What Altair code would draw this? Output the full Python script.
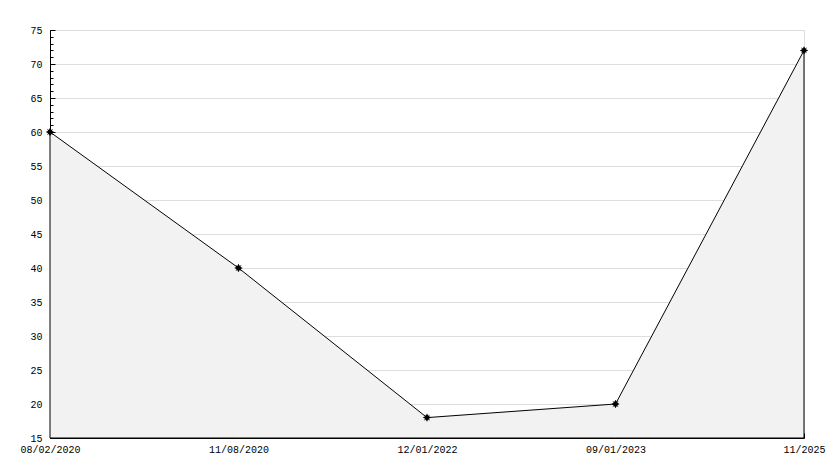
import altair as alt
import pandas as pd

dates = ["08/02/2020", "11/08/2020", "12/01/2022", "09/01/2023", "11/2025"]
values = [60, 40, 18, 20, 72]
y_min, y_max = 15, 75
major_ticks = list(range(15, 76, 5))
minor_ticks = list(range(15, 76, 1))

df = pd.DataFrame({"date": dates, "value": values})

FONT = "Liberation Mono"
xscale = alt.Scale(type="point", padding=0, domain=dates)
yscale = alt.Scale(domain=[y_min, y_max], nice=False, zero=False)

base = alt.Chart(df)

area = base.mark_area(fill="#f2f2f2", stroke="black", strokeWidth=1).encode(
    x=alt.X("date:O", scale=xscale, title=None,
            axis=alt.Axis(orient="bottom", labelAngle=0, tickSize=0, labelPadding=6,
                          domainColor="black", labelColor="black", labelFont=FONT,
                          labelFontSize=10, grid=False, labelOverlap=False)),
    y=alt.Y("value:Q", scale=yscale, title=None,
            axis=alt.Axis(orient="left", values=major_ticks, tickSize=0, labelPadding=8,
                          domainColor="black", labelColor="black", labelFont=FONT,
                          labelFontSize=10, grid=True, gridColor="#dddddd",
                          gridWidth=1, labelOverlap=False)),
    y2=alt.datum(y_min),
)

pts = base.mark_point(
    filled=True, color="black", opacity=1, size=70,
    shape="M0,-1L0.3,-0.45L0.75,-0.75L0.45,-0.3L1,0L0.45,0.3L0.75,0.75L0.3,0.45L0,1L-0.3,0.45L-0.75,0.75L-0.45,0.3L-1,0L-0.45,-0.3L-0.75,-0.75L-0.3,-0.45Z",
).encode(
    x=alt.X("date:O", scale=xscale, title=None,
            axis=alt.Axis(orient="bottom", offset=-5, tickSize=5, tickColor="black",
                          labels=False, domain=False, grid=False)),
    y=alt.Y("value:Q", scale=yscale, title=None,
            axis=alt.Axis(orient="left", offset=-5, tickSize=5, tickColor="black",
                          values=major_ticks, labels=False, domain=False, grid=False)),
)

minor = base.mark_line(opacity=0).encode(
    x=alt.X("date:O", scale=xscale, axis=None),
    y=alt.Y("value:Q", scale=yscale, title=None,
            axis=alt.Axis(orient="left", offset=-3, tickSize=3, tickColor="black",
                          values=minor_ticks, labels=False, domain=False, grid=False)),
)

chart = alt.layer(area, minor, pts).resolve_scale(
    x="independent", y="independent"
).properties(
    width=754, height=408,
    autosize=alt.AutoSizeParams(type="none"),
    padding={"left": 42, "top": 22, "right": 22, "bottom": 22},
).configure_view(stroke=None).configure(background="white")

chart.save("out.html", embed_options={"renderer": "svg", "actions": False})
